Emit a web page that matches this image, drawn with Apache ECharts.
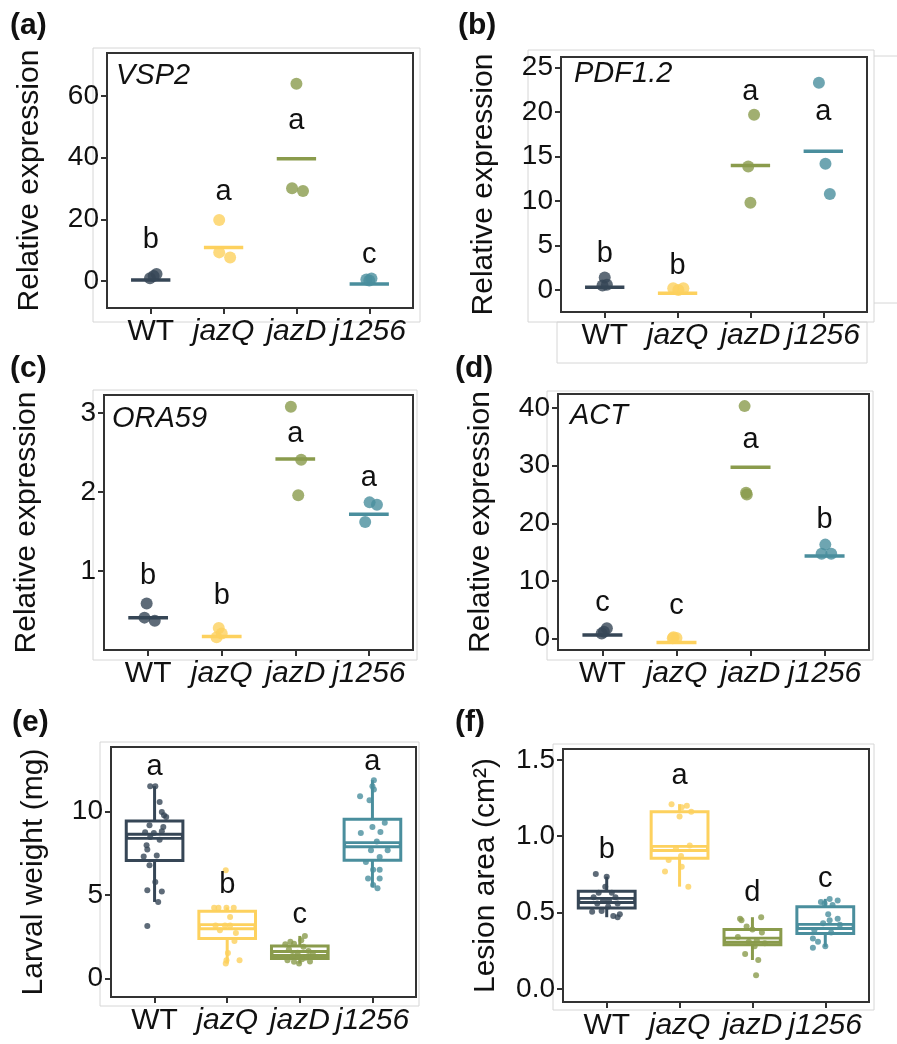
<!DOCTYPE html>
<html>
<head>
<meta charset="utf-8">
<script src="https://cdn.jsdelivr.net/npm/echarts@6/dist/echarts.min.js"></script>
<style>
  html, body { margin: 0; padding: 0; background: #fff; }
  #chart { width: 897px; height: 1044px; }
</style>
</head>
<body>
<div id="chart"></div>
<script>
// genotypes and their colours
const groups = ['WT', 'jazQ', 'jazD', 'j1256']
const colors = ['#364656', '#FDD15E', '#8A9B4C', '#4A8E9D']

// (a) VSP2 qPCR, three replicates per genotype
const vsp2Values = [[0.9, 2.3, 1.6], [19.8, 9.3, 7.6], [64, 30.1, 29.2], [0.5, 0.2, 0.8]]
const vsp2Jitter = [[-0.01, 0.08, 0.04], [-0.06, -0.06, 0.09], [0.0, -0.06, 0.09], [-0.04, 0.0, 0.03]]
const vsp2Means = [0.3, 10.9, 39.7, -1.0]
const vsp2Letters = ['b', 'a', 'a', 'c']
const vsp2LetterY = [13.3, 29, 52, 8.4]
const vsp2Ticks = [0, 20, 40, 60]

// (b) PDF1.2
const pdfValues = [[1.4, 0.5, 0.6], [0.2, 0.2, 0.0], [19.7, 13.9, 9.8], [23.3, 14.2, 10.8]]
const pdfJitter = [[0.0, -0.03, 0.03], [-0.06, 0.08, 0.01], [0.05, -0.03, 0.0], [-0.06, 0.03, 0.09]]
const pdfMeans = [0.3, -0.37, 14.0, 15.6]
const pdfLetters = ['b', 'b', 'a', 'a']
const pdfLetterY = [4.1, 2.7, 22.3, 20.0]
const pdfTicks = [0, 5, 10, 15, 20, 25]

// (c) ORA59
const oraValues = [[0.59, 0.41, 0.37], [0.28, 0.16, 0.21], [3.08, 2.41, 1.96], [1.87, 1.84, 1.62]]
const oraJitter = [[-0.02, -0.05, 0.09], [-0.04, -0.07, 0.0], [-0.06, 0.08, 0.04], [0.01, 0.11, -0.05]]
const oraMeans = [0.41, 0.17, 2.42, 1.72]
const oraLetters = ['b', 'b', 'a', 'a']
const oraLetterY = [0.94, 0.68, 2.73, 2.18]
const oraTicks = [1, 2, 3]

// (d) ACT
const actValues = [[1.8, 0.9, 1.2], [0.23, 0.06, 0.1], [40.3, 25.3, 25.0], [16.3, 14.7, 14.7]]
const actJitter = [[0.06, -0.01, 0.02], [-0.04, -0.05, 0.0], [-0.08, -0.06, -0.05], [0.01, -0.04, 0.09]]
const actMeans = [0.64, -0.64, 29.7, 14.35]
const actLetters = ['c', 'c', 'a', 'b']
const actLetterY = [6.1, 5.6, 34.5, 20.6]
const actTicks = [0, 10, 20, 30, 40]

// (e) larval weight: box stats [low, Q1, median, Q3, high] and individual larvae
const weightBoxes = [[4.58, 7.05, 8.5, 9.42, 11.5], [0.9, 2.4, 3.1, 4.02, 4.25], [0.9, 1.2, 1.5, 1.95, 2.55], [5.48, 7.07, 8.0, 9.52, 11.86]]
const weightValues = [
  [11.5, 11.5, 10.55, 9.96, 9.76, 9.66, 9.16, 9.06, 8.75, 8.7, 8.8, 8.46, 8.3, 7.97, 7.72, 7.3, 7.35, 6.77, 5.77, 5.28, 5.2, 4.58, 3.15],
  [6.47, 4.24, 4.24, 4.24, 4.24, 3.68, 3.18, 3.18, 3.18, 2.89, 2.73, 2.25, 1.53, 1.1, 1.1, 0.9],
  [2.55, 2.29, 2.2, 2.05, 2.08, 1.9, 1.75, 1.65, 1.55, 1.45, 1.35, 1.25, 1.1, 1.0, 1.02, 0.9, 1.15],
  [11.86, 11.5, 11.3, 10.9, 10.66, 9.32, 9.06, 8.76, 8.7, 8.2, 7.67, 7.67, 7.27, 6.97, 6.5, 6.5, 5.98, 5.98, 5.6, 5.4]
]
const weightJitter = [
  [-0.06, 0.01, 0.07, 0.10, 0.13, 0.16, -0.07, 0.12, -0.13, -0.01, 0.10, -0.06, 0.07, -0.11, -0.10, -0.15, 0.03, -0.07, 0.01, -0.10, 0.10, 0.05, -0.10],
  [-0.02, -0.18, -0.12, -0.01, 0.09, 0.04, -0.16, -0.03, 0.04, -0.10, 0.12, 0.10, 0.01, -0.01, 0.17, -0.02],
  [0.07, 0.02, -0.13, -0.2, -0.08, 0.05, -0.15, 0.12, -0.03, 0.18, -0.1, 0.08, -0.17, -0.08, 0.14, -0.01, 0.03],
  [0.02, 0.0, 0.02, -0.17, -0.04, 0.17, 0.0, 0.11, -0.16, 0.06, -0.02, 0.21, 0.10, -0.09, 0.01, 0.10, -0.06, 0.10, 0.01, 0.07]
]
const weightLetters = ['a', 'b', 'c', 'a']
const weightLetterY = [12.65, 5.58, 3.78, 12.95]
const weightTicks = [0, 5, 10]

// (f) lesion area
const lesionBoxes = [[0.47, 0.53, 0.58, 0.64, 0.735], [0.67, 0.856, 0.92, 1.16, 1.21], [0.19, 0.29, 0.32, 0.39, 0.47], [0.276, 0.363, 0.41, 0.538, 0.59]]
const lesionValues = [
  [0.753, 0.735, 0.67, 0.63, 0.63, 0.60, 0.60, 0.58, 0.58, 0.56, 0.56, 0.54, 0.505, 0.51, 0.478, 0.49, 0.47],
  [1.21, 1.2, 1.19, 1.13, 1.16, 0.94, 0.92, 0.87, 0.845, 0.8, 0.77, 0.67],
  [0.47, 0.46, 0.45, 0.41, 0.39, 0.37, 0.34, 0.32, 0.31, 0.30, 0.28, 0.23, 0.19, 0.09],
  [0.59, 0.58, 0.57, 0.56, 0.55, 0.49, 0.46, 0.45, 0.43, 0.42, 0.385, 0.37, 0.33, 0.31, 0.28, 0.27]
]
const lesionJitter = [
  [-0.15, 0.0, -0.02, -0.11, 0.07, -0.18, 0.12, -0.05, 0.03, 0.15, -0.13, 0.02, -0.2, -0.07, 0.09, 0.18, 0.15],
  [-0.11, 0.1, 0.03, 0.0, 0.16, 0.14, -0.05, 0.02, -0.15, 0.03, -0.2, 0.12],
  [0.12, -0.17, -0.15, -0.08, 0.0, 0.13, -0.2, 0.06, -0.05, 0.17, 0.03, -0.1, 0.08, 0.05],
  [0.06, 0.17, -0.06, -0.01, 0.1, 0.04, 0.17, 0.06, -0.03, 0.2, -0.15, 0.08, -0.17, -0.1, 0.0, -0.17]
]
const lesionLetters = ['b', 'a', 'd', 'c']
const lesionLetterY = [0.91, 1.396, 0.63, 0.72]
const lesionTicks = [0, 0.5, 1.0, 1.5]

const FONT = 'Arial, "Liberation Sans", sans-serif'
const groupX = [1, 2, 3, 4]

const chart = echarts.init(document.getElementById('chart'))

const panels = [
  { grid: { left: 107, top: 53, width: 306, height: 255 }, min: -8.75, max: 74, ticks: vsp2Ticks, name: 'Relative expression' },
  { grid: { left: 561, top: 57, width: 306, height: 255 }, min: -2.47, max: 26.2, ticks: pdfTicks, name: 'Relative expression' },
  { grid: { left: 104, top: 395, width: 309, height: 255 }, min: 0, max: 3.23, ticks: oraTicks, name: 'Relative expression' },
  { grid: { left: 558, top: 394, width: 311, height: 256 }, min: -1.96, max: 42.4, ticks: actTicks, name: 'Relative expression' },
  { grid: { left: 111, top: 747, width: 305, height: 250 }, min: -1.1, max: 13.84, ticks: weightTicks, name: 'Larval weight (mg)' },
  { grid: { left: 563, top: 749, width: 306, height: 253 }, min: -0.085, max: 1.571, ticks: lesionTicks, name: 'Lesion area (cm²)', decimals: 1 }
]

const grids = panels.map(p => Object.assign({ show: true, borderColor: '#333', borderWidth: 2, containLabel: false }, p.grid))

const xAxes = panels.map((p, k) => ({
  type: 'value', gridIndex: k, min: 0.4, max: 4.6,
  splitLine: { show: false },
  axisLine: { show: false, onZero: false },
  axisTick: { show: true, customValues: groupX, length: 6, lineStyle: { color: '#333', width: 2 } },
  axisLabel: {
    customValues: groupX, margin: 9, color: '#111',
    formatter: v => {
      const i = Math.round(v) - 1
      return i === 0 ? '{n|' + groups[i] + '}' : '{i|' + groups[i] + '}'
    },
    rich: {
      n: { fontSize: 30, fontFamily: FONT, color: '#111' },
      i: { fontSize: 30, fontFamily: FONT, fontStyle: 'italic', color: '#111' }
    }
  }
}))

const yAxes = panels.map((p, k) => ({
  type: 'value', gridIndex: k, min: p.min, max: p.max,
  splitLine: { show: false },
  axisLine: { show: false, onZero: false },
  axisTick: { show: true, customValues: p.ticks, length: 6, lineStyle: { color: '#333', width: 2 } },
  axisLabel: {
    customValues: p.ticks, margin: 8, color: '#111', fontSize: 28, fontFamily: FONT,
    formatter: v => p.decimals ? v.toFixed(p.decimals) : String(v)
  },
  name: p.name, nameLocation: 'middle', nameGap: 62,
  nameTextStyle: { fontSize: 30, fontFamily: FONT, color: '#111' }
}))

function dotSeries(k, values, jitter, size) {
  const data = []
  values.forEach((arr, g) => {
    arr.forEach((v, j) => {
      data.push({ value: [groupX[g] + jitter[g][j], v], itemStyle: { color: colors[g] } })
    })
  })
  return { type: 'scatter', xAxisIndex: k, yAxisIndex: k, symbolSize: size, data: data, z: 4, silent: true }
}

function meanSeries(k, means) {
  return {
    type: 'custom', xAxisIndex: k, yAxisIndex: k, z: 3, silent: true,
    data: means.map((m, g) => [groupX[g], m, g]),
    renderItem: (params, api) => {
      const x = api.value(0), m = api.value(1)
      const a = api.coord([x - 0.27, m]), b = api.coord([x + 0.27, m])
      return { type: 'line', shape: { x1: a[0], y1: a[1], x2: b[0], y2: b[1] }, style: { stroke: colors[api.value(2)], lineWidth: 3.5 } }
    }
  }
}

function letterSeries(k, letters, ys) {
  return {
    type: 'custom', xAxisIndex: k, yAxisIndex: k, z: 5, silent: true,
    data: ys.map((y, g) => [groupX[g], y, g]),
    renderItem: (params, api) => {
      const p = api.coord([api.value(0), api.value(1)])
      return { type: 'text', x: p[0], y: p[1], style: { text: letters[api.value(2)], fill: '#111', font: '29px ' + FONT, align: 'center', verticalAlign: 'middle' } }
    }
  }
}

function boxSeries(k, boxes) {
  return {
    type: 'custom', xAxisIndex: k, yAxisIndex: k, z: 2, silent: true,
    data: boxes.map((b, g) => [groupX[g]].concat(b).concat([g])),
    renderItem: (params, api) => {
      const x = api.value(0), lo = api.value(1), q1 = api.value(2), md = api.value(3), q3 = api.value(4), hi = api.value(5)
      const c = colors[api.value(6)]
      const hw = 0.39
      const pHi = api.coord([x, hi]), pQ3 = api.coord([x, q3]), pQ1 = api.coord([x, q1]), pLo = api.coord([x, lo])
      const tl = api.coord([x - hw, q3]), br = api.coord([x + hw, q1])
      const ml = api.coord([x - hw, md]), mr = api.coord([x + hw, md])
      return {
        type: 'group',
        children: [
          { type: 'line', shape: { x1: pHi[0], y1: pHi[1], x2: pQ3[0], y2: pQ3[1] }, style: { stroke: c, lineWidth: 3 } },
          { type: 'line', shape: { x1: pQ1[0], y1: pQ1[1], x2: pLo[0], y2: pLo[1] }, style: { stroke: c, lineWidth: 3 } },
          { type: 'rect', shape: { x: tl[0], y: tl[1], width: br[0] - tl[0], height: br[1] - tl[1] }, style: { fill: '#fff', stroke: c, lineWidth: 3 } },
          { type: 'line', shape: { x1: ml[0], y1: ml[1], x2: mr[0], y2: mr[1] }, style: { stroke: c, lineWidth: 7 } },
          { type: 'line', shape: { x1: ml[0] + 2, y1: ml[1], x2: mr[0] - 2, y2: mr[1] }, style: { stroke: '#fff', lineWidth: 1.2 } }
        ]
      }
    }
  }
}

const series = [
  meanSeries(0, vsp2Means), dotSeries(0, vsp2Values, vsp2Jitter, 12), letterSeries(0, vsp2Letters, vsp2LetterY),
  meanSeries(1, pdfMeans), dotSeries(1, pdfValues, pdfJitter, 12), letterSeries(1, pdfLetters, pdfLetterY),
  meanSeries(2, oraMeans), dotSeries(2, oraValues, oraJitter, 12), letterSeries(2, oraLetters, oraLetterY),
  meanSeries(3, actMeans), dotSeries(3, actValues, actJitter, 12), letterSeries(3, actLetters, actLetterY),
  boxSeries(4, weightBoxes), dotSeries(4, weightValues, weightJitter, 6), letterSeries(4, weightLetters, weightLetterY),
  boxSeries(5, lesionBoxes), dotSeries(5, lesionValues, lesionJitter, 6), letterSeries(5, lesionLetters, lesionLetterY)
]

function label(text, left, top, italic) {
  return {
    type: 'text', left: left, top: top, silent: true,
    style: { text: text, fill: '#111', font: (italic ? 'italic ' : 'bold ') + (italic ? '29px ' : '30px ') + FONT }
  }
}

function frame(x1, y1, x2, y2) {
  return { type: 'rect', silent: true, z: -1, shape: { x: x1, y: y1, width: x2 - x1, height: y2 - y1 }, style: { fill: 'none', stroke: '#d6d6d6', lineWidth: 1 } }
}

const graphics = [
  frame(93, 48, 420, 322), frame(528, 50, 874, 322), frame(557, 322, 867, 363),
  frame(93, 390, 417, 660), frame(547, 391, 873, 660),
  frame(100, 742, 419, 1006), frame(553, 744, 874, 1010),
  { type: 'line', silent: true, shape: { x1: 874, y1: 56, x2: 897, y2: 56 }, style: { stroke: '#d6d6d6', lineWidth: 1 } },
  { type: 'line', silent: true, shape: { x1: 874, y1: 303, x2: 897, y2: 303 }, style: { stroke: '#d6d6d6', lineWidth: 1 } },
  label('(a)', 10, 11), label('(b)', 458, 11), label('(c)', 10, 354), label('(d)', 455, 354),
  label('(e)', 12, 708), label('(f)', 455, 708),
  label('VSP2', 116, 61, true), label('PDF1.2', 574, 59, true), label('ORA59', 112, 404, true), label('ACT', 570, 401, true)
]

chart.setOption({
  animation: false,
  grid: grids,
  xAxis: xAxes,
  yAxis: yAxes,
  series: series,
  graphic: graphics
})
</script>
</body>
</html>
